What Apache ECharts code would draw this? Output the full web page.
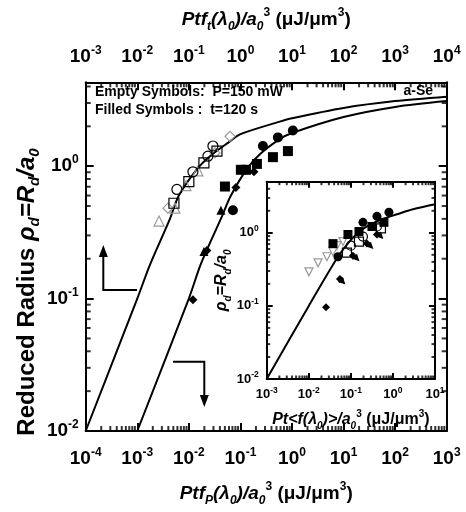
<!DOCTYPE html>
<html>
<head>
<meta charset="utf-8">
<script src="https://cdn.jsdelivr.net/npm/echarts@6/dist/echarts.min.js"></script>
<style>
html, body { margin: 0; padding: 0; background: #fff; }
#chart { width: 466px; height: 512px; }
</style>
</head>
<body>
<div id="chart"></div>
<script>
// theory curves
var leftCurveX = [1e-4, 1e-3, 0.00176, 0.0043, 0.0064, 0.0144, 0.0257, 0.0627, 0.098, 0.58, 1, 10, 100, 1000];
var leftCurveY = [0.01, 0.1, 0.18, 0.40, 0.60, 0.95, 1.19, 1.54, 1.74, 2.17, 2.3, 2.75, 3.1, 3.35];
var rightCurveX = [1e-3, 0.01, 0.0164, 0.0234, 0.043, 0.064, 0.134, 0.25, 0.58, 1, 10, 100, 1000];
var rightCurveY = [0.01, 0.1, 0.175, 0.243, 0.41, 0.59, 0.955, 1.25, 1.6, 1.78, 2.35, 2.8, 3.1];
var insetCurveX = [1e-3, 0.01, 0.0494, 0.1, 0.164, 0.241, 0.5, 1.245, 3, 10];
var insetCurveY = [0.01, 0.1, 0.47, 0.8, 1.04, 1.22, 1.5, 1.79, 2.1, 2.46];

// main plot, empty symbols (P=150 mW)
var openCircles = [[0.0293, 1.42], [0.0234, 1.19], [0.0120, 0.907], [0.00587, 0.667]];
var openSquares = [[0.0351, 1.30], [0.0196, 1.06], [0.0100, 0.764], [0.00514, 0.525]];
var openDiamonds = [[0.0627, 1.68], [0.0321, 1.26], [0.00394, 0.482]];
var openTriangles = [[0.015, 0.923], [0.00879, 0.714], [0.00538, 0.482], [0.00264, 0.385]];
// main plot, filled symbols (t=120 s)
var filledCircles = [[0.273, 1.42], [0.533, 1.65], [1.04, 1.86], [0.0716, 0.465]];
var filledSquares = [[0.834, 1.30], [0.427, 1.17], [0.209, 1.04], [0.128, 0.939], [0.102, 0.939], [0.0501, 0.702]];
var filledDiamonds = [[0.183, 0.907], [0.0818, 0.690], [0.0224, 0.231], [0.012, 0.098]];
var filledTriangles = [[0.0419, 0.465], [0.0196, 0.227]];

// inset
var inFilledCircles = [[0.194, 1.39], [0.417, 1.68], [0.804, 1.91], [0.0494, 0.47]];
var inFilledSquares = [[0.611, 1.39], [0.0853, 0.947], [0.156, 1.04], [0.317, 1.22], [0.0376, 0.711]];
var inOpenCircles = [[0.417, 1.22], [0.194, 0.889], [0.1, 0.667]];
var inOpenSquares = [[0.519, 1.15], [0.156, 0.758], [0.0807, 0.534]];
var inFilledDiamonds = [[0.417, 0.947], [0.241, 0.711], [0.112, 0.485], [0.055, 0.233], [0.0257, 0.0957]];
var inFilledTriangles = [[0.519, 0.889], [0.30, 0.647], [0.14, 0.441], [0.0649, 0.212]];
var inGreyTriangles = [[0.0649, 0.758], [0.0468, 0.667], [0.0376, 0.551], [0.027, 0.47], [0.0166, 0.388], [0.0101, 0.292]];

// axis ranges
var mainX = [1e-4, 1e3];
var mainXTop = [1e-3, 1e4];
var mainY = [0.01, 4.3];
var insetX = [1e-3, 10];
var insetY = [0.01, 5];

var FONT = 'Liberation Sans, Arial, sans-serif';

function pairs(xs, ys) {
	var out = [];
	for (var i = 0; i < xs.length; i++) out.push([xs[i], ys[i]]);
	return out;
}
function powerLabel(v) {
	var l = Math.log10(v);
	var e = Math.round(l);
	if (Math.abs(l - e) > 1e-6) return '';
	return '{b|10}{s|' + e + '}';
}
function labelRich(size, sup, lh, supLh) {
	return {
		b: { fontFamily: FONT, fontWeight: 'bold', fontSize: size, lineHeight: lh, color: '#000' },
		s: { fontFamily: FONT, fontWeight: 'bold', fontSize: sup, lineHeight: supLh, verticalAlign: 'top', color: '#000' }
	};
}
function nameRich(size, small, lh) {
	return {
		i: { fontFamily: FONT, fontWeight: 'bold', fontStyle: 'italic', fontSize: size, lineHeight: lh, color: '#000' },
		n: { fontFamily: FONT, fontWeight: 'bold', fontSize: size, lineHeight: lh, color: '#000' },
		sb: { fontFamily: FONT, fontWeight: 'bold', fontStyle: 'italic', fontSize: small, lineHeight: 12, verticalAlign: 'bottom', color: '#000' },
		sp: { fontFamily: FONT, fontWeight: 'bold', fontSize: small, lineHeight: 9, verticalAlign: 'top', color: '#000' }
	};
}
// decade ticks, or 2..9 x 10^n ticks, strictly inside a range
function tickValues(lo, hi, minor) {
	var res = [];
	var ks = minor ? [2, 3, 4, 5, 6, 7, 8, 9] : [1];
	for (var n = Math.floor(Math.log10(lo)) - 1; n <= Math.ceil(Math.log10(hi)); n++) {
		for (var j = 0; j < ks.length; j++) {
			var v = ks[j] * Math.pow(10, n);
			if (v > lo * 1.0001 && v < hi * 0.9999) res.push(v);
		}
	}
	return res;
}
// inward minor tick marks on the four sides of a box, as thin rect symbols
function tickSeries(xi, yi, xr, yr, len, minor) {
	var w = 2;
	var xs = tickValues(xr[0], xr[1], minor);
	var ys = tickValues(yr[0], yr[1], minor);
	function mk(data, size, off) {
		return {
			type: 'scatter', xAxisIndex: xi, yAxisIndex: yi, symbol: 'rect', symbolSize: size,
			symbolOffset: off, clip: false, silent: true, z: 6, itemStyle: { color: '#000' }, data: data
		};
	}
	return [
		mk(xs.map(function (v) { return [v, yr[0]]; }), [w, len], [0, -len / 2]),
		mk(xs.map(function (v) { return [v, yr[1]]; }), [w, len], [0, len / 2]),
		mk(ys.map(function (v) { return [xr[0], v]; }), [len, w], [len / 2, 0]),
		mk(ys.map(function (v) { return [xr[1], v]; }), [len, w], [-len / 2, 0])
	];
}
function logAxis(grid, pos, range, opt) {
	var ax = {
		type: 'log', logBase: 10, gridIndex: grid, position: pos, min: range[0], max: range[1],
		axisLine: { show: true, onZero: false, lineStyle: { color: '#000', width: 2 } },
		axisTick: { show: true, inside: true, length: opt.tick, lineStyle: { color: '#000', width: 2 } },
		axisLabel: { show: !!opt.label, margin: opt.margin || 8, formatter: powerLabel, rich: opt.rich },
		splitLine: { show: false }
	};
	if (opt.name) {
		ax.name = opt.name;
		ax.nameLocation = 'middle';
		ax.nameGap = opt.nameGap;
		ax.nameTextStyle = { rich: opt.nameRich };
	}
	return ax;
}
function scatter(data, xi, yi, symbol, size, fill, stroke, rot) {
	return {
		type: 'scatter', xAxisIndex: xi, yAxisIndex: yi, symbol: symbol, symbolSize: size,
		symbolRotate: rot || 0, z: 5, silent: true,
		itemStyle: { color: fill, borderColor: stroke, borderWidth: fill === 'transparent' ? 1.2 : 0, opacity: 1 },
		data: data
	};
}
function curve(xs, ys, xi, yi) {
	return {
		type: 'line', xAxisIndex: xi, yAxisIndex: yi, showSymbol: false, smooth: 0.3, silent: true, z: 4,
		lineStyle: { color: '#000', width: 2 },
		data: pairs(xs, ys)
	};
}

var mainLabelRich = labelRich(19, 12, 24, 7);
var insetLabelRich = labelRich(13, 8.5, 17, 5);
var bigName = nameRich(19, 12, 26);
var insetName = nameRich(16, 10, 22);
var yTitleRich = nameRich(24, 15, 30);

var series = [
	curve(leftCurveX, leftCurveY, 0, 0),
	curve(rightCurveX, rightCurveY, 0, 0),
	curve(insetCurveX, insetCurveY, 2, 2),

	scatter(openDiamonds, 0, 0, 'diamond', 10, 'transparent', '#999'),
	scatter(openTriangles, 0, 0, 'triangle', 10, 'transparent', '#999'),
	scatter(openCircles, 0, 0, 'circle', 10, 'transparent', '#000'),
	scatter(openSquares, 0, 0, 'rect', 10, 'transparent', '#000'),
	scatter(filledCircles, 0, 0, 'circle', 10, '#000', '#000'),
	scatter(filledSquares, 0, 0, 'rect', 10, '#000', '#000'),
	scatter(filledDiamonds, 0, 0, 'diamond', 9, '#000', '#000'),
	scatter(filledTriangles, 0, 0, 'triangle', 9, '#000', '#000'),

	scatter(inGreyTriangles, 2, 2, 'triangle', 8, 'transparent', '#999', 180),
	scatter(inOpenCircles, 2, 2, 'circle', 9, 'transparent', '#000'),
	scatter(inOpenSquares, 2, 2, 'rect', 9, 'transparent', '#000'),
	scatter(inFilledCircles, 2, 2, 'circle', 9, '#000', '#000'),
	scatter(inFilledSquares, 2, 2, 'rect', 9, '#000', '#000'),
	scatter(inFilledDiamonds, 2, 2, 'diamond', 8, '#000', '#000'),
	scatter(inFilledTriangles, 2, 2, 'triangle', 7, '#000', '#000', -135)
].concat(
	tickSeries(0, 0, mainX, mainY, 5, true),
	tickSeries(2, 2, insetX, insetY, 3.5, true)
);

var chart = echarts.init(document.getElementById('chart'));
var option = {
	animation: false,
	backgroundColor: '#fff',
	grid: [
		{ left: 85.7, right: 19.3, top: 82.3, bottom: 76 },
		{ left: 266.7, right: 31, top: 181.7, bottom: 133, show: true, backgroundColor: '#fff', borderWidth: 0 }
	],
	xAxis: [
		logAxis(0, 'bottom', mainX, { tick: 8, label: true, margin: 16, rich: mainLabelRich,
			name: '{i|Ptf}{sb|P}{i|(λ}{sb|0}{i|)/a}{sb|0}{sp|3}{n| (μJ/μm}{sp|3}{n|)}', nameGap: 50, nameRich: bigName }),
		logAxis(0, 'top', mainXTop, { tick: 8, label: true, margin: 14, rich: mainLabelRich,
			name: '{i|Ptf}{sb|t}{i|(λ}{sb|0}{i|)/a}{sb|0}{sp|3}{n| (μJ/μm}{sp|3}{n|)}', nameGap: 50, nameRich: bigName }),
		logAxis(1, 'bottom', insetX, { tick: 6, label: true, margin: 7, rich: insetLabelRich,
			name: '{i|Pt<f(λ}{sb|0}{i|)>/a}{sb|0}{sp|3}{n| (μJ/μm}{sp|3}{n|)}', nameGap: 30, nameRich: insetName }),
		logAxis(1, 'top', insetX, { tick: 6 })
	],
	yAxis: [
		logAxis(0, 'left', mainY, { tick: 8, label: true, margin: 7, rich: mainLabelRich }),
		logAxis(0, 'right', mainY, { tick: 8 }),
		logAxis(1, 'left', insetY, { tick: 6, label: true, margin: 8, rich: insetLabelRich,
			name: '{i|ρ}{sb|d}{i|=R}{sb|d}{i|/a}{sb|0}', nameGap: 23, nameRich: insetName }),
		logAxis(1, 'right', insetY, { tick: 6 })
	],
	graphic: [
		{ type: 'text', x: 27, y: 292, rotation: Math.PI / 2,
			style: { text: '{n|Reduced Radius }{i|ρ}{sb|d}{i|=R}{sb|d}{i|/a}{sb|0}', rich: yTitleRich, align: 'center', verticalAlign: 'middle' } },
		{ type: 'text', x: 95, y: 92, style: { text: 'Empty Symbols:  P=150 mW', font: 'bold 14px ' + FONT, fill: '#000', verticalAlign: 'middle' } },
		{ type: 'text', x: 95, y: 110.5, style: { text: 'Filled Symbols :  t=120 s', font: 'bold 14px ' + FONT, fill: '#000', verticalAlign: 'middle' } },
		{ type: 'text', x: 433, y: 91, style: { text: 'a-Se', font: 'bold 14px ' + FONT, fill: '#000', align: 'right', verticalAlign: 'middle' } },
		// arrows pointing to the axes
		{ type: 'polyline', shape: { points: [[137, 290], [103.3, 290], [103.3, 255]] }, style: { stroke: '#000', lineWidth: 2, fill: null } },
		{ type: 'polygon', shape: { points: [[103.3, 245], [98.8, 257], [107.8, 257]] }, style: { fill: '#000' } },
		{ type: 'polyline', shape: { points: [[173, 361.7], [204.3, 361.7], [204.3, 397]] }, style: { stroke: '#000', lineWidth: 2, fill: null } },
		{ type: 'polygon', shape: { points: [[204.3, 407], [199.8, 395], [208.8, 395]] }, style: { fill: '#000' } }
	],
	series: series
};
chart.setOption(option);
</script>
</body>
</html>
